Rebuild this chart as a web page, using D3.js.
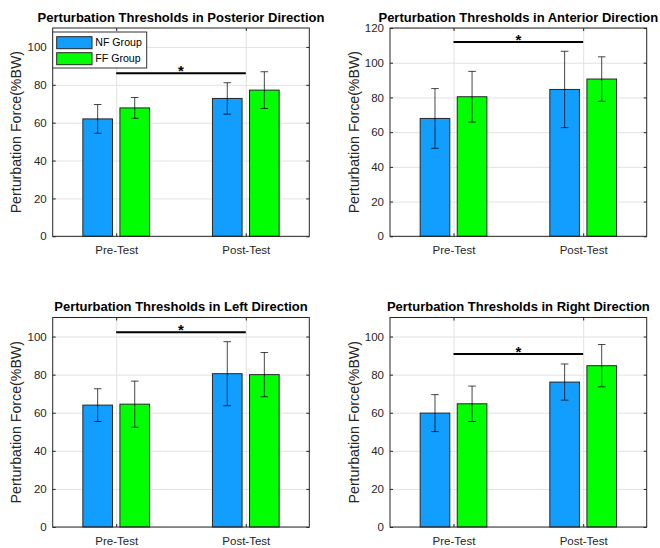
<!DOCTYPE html>
<html>
<head>
<meta charset="utf-8">
<script src="https://cdn.jsdelivr.net/npm/d3@7"></script>
<style>
  body { margin: 0; background: #fff; }
  svg { display: block; }
</style>
</head>
<body>
<svg id="chart" width="660" height="548"></svg>
<script>
// ---- data ----
const categories = ["Pre-Test", "Post-Test"];
const groups = ["NF Group", "FF Group"];
const directions = ["Posterior", "Anterior", "Left", "Right"];
// group means and standard deviations per direction: [Pre-Test, Post-Test]
const nfMean = [[62.0, 72.8], [67.9, 84.6], [64.0, 80.5], [59.8, 76.1]];
const nfSD   = [[7.6, 8.3],   [17.2, 22.0], [8.6, 16.8],  [9.7, 9.5]];
const ffMean = [[67.8, 77.2], [80.4, 90.6], [64.5, 80.0], [64.7, 84.7]];
const ffSD   = [[5.5, 9.7],   [14.6, 12.8], [12.1, 11.6], [9.3, 11.1]];
// height of the Pre vs Post significance bracket
const sigLevel = [86.1, 112.0, 102.3, 90.9];
const yMax = [110, 120, 110, 110];
const yTicks = [
  [0, 20, 40, 60, 80, 100],
  [0, 20, 40, 60, 80, 100, 120],
  [0, 20, 40, 60, 80, 100],
  [0, 20, 40, 60, 80, 100]
];
const groupColors = ["#129EFF", "#00FF00"];

// ---- layout ----
const font = "'Liberation Sans', Arial, Helvetica, sans-serif";
const panels = [
  { left: 52.7, top: 28,    w: 256.6, h: 208.3 },
  { left: 390,  top: 28,    w: 256.7, h: 208.3 },
  { left: 52.7, top: 317.5, w: 256.6, h: 209.5 },
  { left: 390,  top: 317.5, w: 256.7, h: 209.5 }
];
const groupOffset = [-0.143, 0.143];
const barWidth = 0.2286;
const capHalf = 3.8;
const axisColor = "#262626";
const gridColor = "#e2e2e2";

const svg = d3.select("#chart");

panels.forEach((p, i) => {
  const g = svg.append("g").attr("transform", `translate(${p.left},${p.top})`);
  const x = d3.scaleLinear().domain([0.51, 2.49]).range([0, p.w]);
  const y = d3.scaleLinear().domain([0, yMax[i]]).range([p.h, 0]);

  // grid lines
  g.append("g")
    .call(d3.axisLeft(y).tickValues(yTicks[i]).tickSize(-p.w).tickFormat(""))
    .call(s => s.select(".domain").remove())
    .selectAll("line").attr("stroke", gridColor).attr("stroke-width", 1);
  g.append("g")
    .attr("transform", `translate(0,${p.h})`)
    .call(d3.axisBottom(x).tickValues([1, 2]).tickSize(p.h).tickFormat(""))
    .call(s => s.select(".domain").remove())
    .selectAll("line").attr("y2", -p.h).attr("stroke", gridColor).attr("stroke-width", 1);

  const means = [nfMean[i], ffMean[i]];
  const sds = [nfSD[i], ffSD[i]];
  const rows = [];
  groups.forEach((grp, k) => {
    categories.forEach((c, j) => {
      rows.push({ k, j, mean: means[k][j], sd: sds[k][j] });
    });
  });

  // bars
  g.selectAll("rect.bar").data(rows).join("rect")
    .attr("class", "bar")
    .attr("x", d => x(d.j + 1 + groupOffset[d.k] - barWidth / 2))
    .attr("width", d => x(d.j + 1 + groupOffset[d.k] + barWidth / 2) - x(d.j + 1 + groupOffset[d.k] - barWidth / 2))
    .attr("y", d => y(d.mean))
    .attr("height", d => y(0) - y(d.mean))
    .attr("fill", d => groupColors[d.k])
    .attr("stroke", "#262626")
    .attr("stroke-width", 1);

  // error bars
  const eb = g.selectAll("g.err").data(rows).join("g")
    .attr("class", "err")
    .attr("stroke", "#000")
    .attr("stroke-opacity", 0.72)
    .attr("stroke-width", 1);
  eb.append("line")
    .attr("x1", d => x(d.j + 1 + groupOffset[d.k]))
    .attr("x2", d => x(d.j + 1 + groupOffset[d.k]))
    .attr("y1", d => y(d.mean - d.sd))
    .attr("y2", d => y(d.mean + d.sd));
  [-1, 1].forEach(s => {
    eb.append("line")
      .attr("x1", d => x(d.j + 1 + groupOffset[d.k]) - capHalf)
      .attr("x2", d => x(d.j + 1 + groupOffset[d.k]) + capHalf)
      .attr("y1", d => y(d.mean + s * d.sd))
      .attr("y2", d => y(d.mean + s * d.sd));
  });

  // significance bracket
  g.append("line")
    .attr("x1", x(1)).attr("x2", x(2))
    .attr("y1", y(sigLevel[i])).attr("y2", y(sigLevel[i]))
    .attr("stroke", "#000").attr("stroke-width", 2);
  g.append("text")
    .attr("x", (x(1) + x(2)) / 2)
    .attr("y", y(sigLevel[i]) + 3)
    .attr("text-anchor", "middle")
    .attr("font-family", font).attr("font-weight", "bold").attr("font-size", 15)
    .attr("fill", "#000")
    .text("*");

  // axes
  const yAxis = g.append("g")
    .call(d3.axisLeft(y).tickValues(yTicks[i]).tickSize(-3).tickPadding(6));
  g.append("g").attr("transform", `translate(${p.w},0)`)
    .call(d3.axisRight(y).tickValues(yTicks[i]).tickSize(-3).tickFormat(""));
  const xAxis = g.append("g").attr("transform", `translate(0,${p.h})`)
    .call(d3.axisBottom(x).tickValues([1, 2]).tickSize(-3).tickPadding(10)
      .tickFormat(v => categories[v - 1]));
  g.append("g")
    .call(d3.axisTop(x).tickValues([1, 2]).tickSize(-3).tickFormat(""));
  g.selectAll(".domain").remove();
  g.selectAll(".tick line").filter(function () { return this.getAttribute("stroke") === "currentColor"; })
    .attr("stroke", axisColor);
  [yAxis, xAxis].forEach(a => a.selectAll("text")
    .attr("font-family", font).attr("font-size", 11.5).attr("fill", axisColor));

  g.append("rect")
    .attr("width", p.w).attr("height", p.h)
    .attr("fill", "none").attr("stroke", axisColor).attr("stroke-width", 1);

  // y label
  g.append("text")
    .attr("transform", `translate(-31.5,${p.h / 2}) rotate(-90)`)
    .attr("text-anchor", "middle")
    .attr("font-family", font).attr("font-size", 14.2).attr("fill", axisColor)
    .text("Perturbation Force(%BW)");

  // title
  g.append("text")
    .attr("x", p.w / 2).attr("y", -6.5)
    .attr("text-anchor", "middle")
    .attr("font-family", font).attr("font-weight", "bold").attr("font-size", 13)
    .attr("fill", "#000")
    .text(`Perturbation Thresholds in ${directions[i]} Direction`);

  // legend (first panel only)
  if (i === 0) {
    const lg = g.append("g").attr("transform", "translate(0,4)");
    lg.append("rect").attr("width", 94).attr("height", 36)
      .attr("fill", "#fff").attr("stroke", "#333").attr("stroke-width", 1);
    groups.forEach((grp, k) => {
      lg.append("rect")
        .attr("x", 4).attr("y", 4.7 + k * 16).attr("width", 35.3).attr("height", 12)
        .attr("fill", groupColors[k]).attr("stroke", "#262626").attr("stroke-width", 1);
      lg.append("text")
        .attr("x", 42.6).attr("y", 10.7 + k * 16).attr("dy", "0.35em")
        .attr("font-family", font).attr("font-size", 10.6).attr("fill", "#000")
        .text(grp);
    });
  }
});
</script>
</body>
</html>
